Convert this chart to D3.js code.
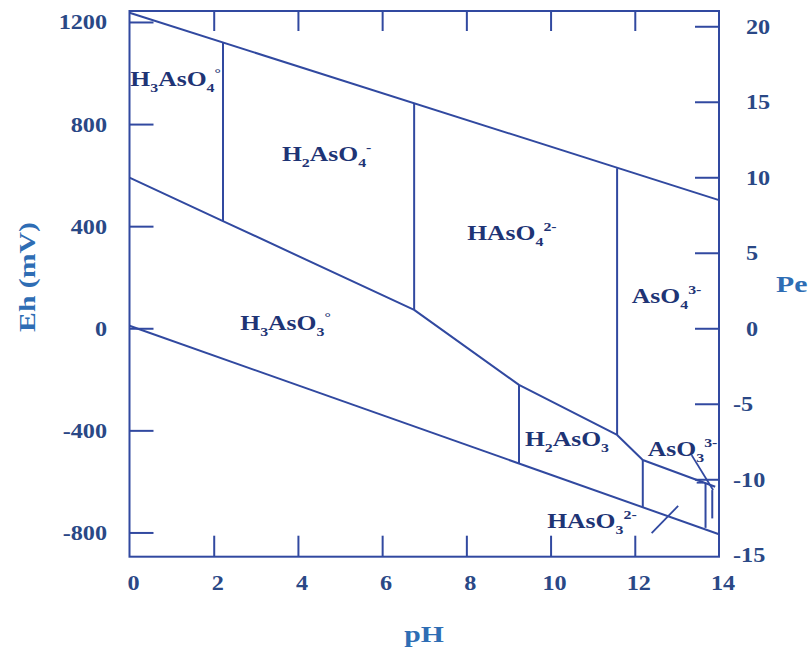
<!DOCTYPE html>
<html>
<head>
<meta charset="utf-8">
<script src="https://cdn.jsdelivr.net/npm/d3@7"></script>
<style>
  body { margin: 0; background: #ffffff; }
  svg { display: block; }
</style>
</head>
<body>
<svg id="chart" width="809" height="647"></svg>
<script>
// Eh–pH (Pourbaix) diagram for arsenic species in water

const phTicks = [0, 2, 4, 6, 8, 10, 12, 14];
const ehTicks = [1200, 800, 400, 0, -400, -800];
const peTicks = [20, 15, 10, 5, 0, -5, -10, -15];

// Water stability limits: [pH, Eh mV]
const oxygenLine = [[0, 1236], [14, 502]];
const hydrogenLine = [[0, 10], [14, -807]];

// As(V) / As(III) boundary: [pH, Eh mV]
const redoxBoundary = [
  [0, 590], [2.22, 420], [6.76, 72], [9.25, -222],
  [11.58, -418], [12.19, -516], [13.91, -621]
];

// Acid–base boundaries: [pH, Eh top, Eh bottom]
const acidBaseBoundaries = [
  [2.22, 1120, 420],
  [6.76, 882, 72],
  [9.25, -222, -528],
  [11.58, 627, -418],
  [12.19, -516, -700],
  [13.68, -607, -782],
  [13.84, -634, -745]
];

// Short leader / marker strokes: pairs of [pH, Eh]
const leaderLines = [
  [[13.35, -497], [13.86, -634]],
  [[12.40, -803], [13.03, -696]],
  [[13.47, -605], [13.63, -605]]
];

// Species labels: text pieces with their script role
const speciesNames = [
  [["H"], ["3", "sub"], ["AsO"], ["4", "sub"], ["°", "sup"]],
  [["H"], ["2", "sub"], ["AsO"], ["4", "sub"], ["-", "sup"]],
  [["HAsO"], ["4", "sub"], ["2-", "sup"]],
  [["AsO"], ["4", "sub"], ["3-", "sup"]],
  [["H"], ["3", "sub"], ["AsO"], ["3", "sub"], ["°", "sup"]],
  [["H"], ["2", "sub"], ["AsO"], ["3", "sub"]],
  [["AsO"], ["3", "sub"], ["3-", "sup"]],
  [["HAsO"], ["3", "sub"], ["2-", "sup"]]
];
// Label anchors (left edge, baseline) in [pH, Eh mV]
const speciesAnchors = [
  [0.02, 949], [3.62, 655], [8.02, 346], [11.93, 99],
  [2.63, -7], [9.39, -461], [12.31, -500], [9.92, -783]
];

const MV_PER_PE = 59.16;

const svg = d3.select("#chart");
const lineColor = "#3149a0";
const tickTextColor = "#2a4886";
const speciesColor = "#1e3475";
const titleColor = "#2e6db4";
const serif = "'Liberation Serif', 'Times New Roman', serif";

const x = d3.scaleLinear().domain([0, 14]).range([129.5, 719]);
const y = d3.scaleLinear().domain([-895, 1243]).range([556.7, 11]);
const pe = d3.scaleLinear().domain([-895 / MV_PER_PE, 1243 / MV_PER_PE]).range([556.7, 11]);

const [x0, x1] = x.range();
const [yb, yt] = y.range();

// Inward ticks on all four sides
function styleAxis(g) {
  g.select(".domain").remove();
  g.selectAll(".tick line").attr("stroke", lineColor).attr("stroke-width", 2);
}
svg.append("g").attr("transform", `translate(${x0},0)`)
  .call(d3.axisLeft(y).tickValues(ehTicks).tickSize(-24).tickSizeOuter(0).tickFormat(""))
  .call(styleAxis);
svg.append("g").attr("transform", `translate(${x1},0)`)
  .call(d3.axisRight(pe).tickValues(peTicks.filter(v => v > -15)).tickSize(-24).tickSizeOuter(0).tickFormat(""))
  .call(styleAxis);
svg.append("g").attr("transform", `translate(0,${yb})`)
  .call(d3.axisBottom(x).tickValues(phTicks.filter(v => v > 0 && v < 14)).tickSize(-21).tickSizeOuter(0).tickFormat(""))
  .call(styleAxis);
svg.append("g").attr("transform", `translate(0,${yt})`)
  .call(d3.axisTop(x).tickValues(phTicks.filter(v => v > 0 && v < 14)).tickSize(-20).tickSizeOuter(0).tickFormat(""))
  .call(styleAxis);

// Plot frame
svg.append("rect")
  .attr("x", x0).attr("y", yt)
  .attr("width", x1 - x0).attr("height", yb - yt)
  .attr("fill", "none").attr("stroke", lineColor).attr("stroke-width", 2);

// Stretched bold serif text helper
function stretchedText(parent, px, py, str, opts) {
  return parent.append("text")
    .attr("transform", `translate(${px},${py}) scale(${opts.sx || 1},1)` + (opts.rotate ? ` rotate(${opts.rotate})` : ""))
    .attr("text-anchor", opts.anchor || "start")
    .attr("font-family", serif)
    .attr("font-weight", "bold")
    .attr("font-size", opts.size)
    .attr("fill", opts.color)
    .text(str);
}

// Tick labels
const tickLayer = svg.append("g");
ehTicks.forEach(v => stretchedText(tickLayer, 107, y(v) + 7.5, String(v), { size: 22, sx: 1.1, anchor: "end", color: tickTextColor }));
peTicks.forEach(v => stretchedText(tickLayer, v < 0 ? 733 : 746, pe(v) + 7.5, String(v), { size: 22, sx: 1.1, color: tickTextColor }));
phTicks.forEach(v => stretchedText(tickLayer, x(v) + 4, 590, String(v), { size: 22, sx: 1.1, anchor: "middle", color: tickTextColor }));

// Axis titles
stretchedText(svg, 424, 642, "pH", { size: 24, sx: 1.24, anchor: "middle", color: titleColor });
stretchedText(svg, 776, 292, "Pe", { size: 24, sx: 1.24, color: titleColor });
svg.append("text")
  .attr("transform", "translate(35,277) rotate(-90) scale(1.24,1)")
  .attr("text-anchor", "middle")
  .attr("font-family", serif).attr("font-weight", "bold")
  .attr("font-size", 24).attr("fill", titleColor)
  .text("Eh (mV)");

// Boundary lines
const line = d3.line().x(d => x(d[0])).y(d => y(d[1]));
const lines = svg.append("g").attr("fill", "none").attr("stroke", lineColor)
  .attr("stroke-width", 2).attr("stroke-linejoin", "round");
lines.append("path").attr("d", line(oxygenLine));
lines.append("path").attr("d", line(hydrogenLine));
lines.append("path").attr("d", line(redoxBoundary));
lines.selectAll(".vb").data(acidBaseBoundaries).join("line")
  .attr("x1", d => x(d[0])).attr("x2", d => x(d[0]))
  .attr("y1", d => y(d[1])).attr("y2", d => y(d[2]));
lines.selectAll(".leader").data(leaderLines).join("path")
  .attr("stroke-width", 1.8)
  .attr("d", d => line(d));

// Species labels with sub/superscripts
const fs = 21;
const offsets = { sub: 0.3 * fs, sup: -0.42 * fs };
const labels = svg.append("g");
speciesNames.forEach((parts, i) => {
  const [ph, eh] = speciesAnchors[i];
  const t = labels.append("text")
    .attr("transform", `translate(${x(ph)},${y(eh)}) scale(1.22,1)`)
    .attr("font-family", serif).attr("font-weight", "bold")
    .attr("font-size", fs).attr("fill", speciesColor);
  let cur = 0;
  parts.forEach(([s, role]) => {
    const target = role ? offsets[role] : 0;
    t.append("tspan")
      .attr("dy", target - cur)
      .attr("font-size", role ? fs * 0.62 : fs)
      .text(s);
    cur = target;
  });
});
</script>
</body>
</html>
